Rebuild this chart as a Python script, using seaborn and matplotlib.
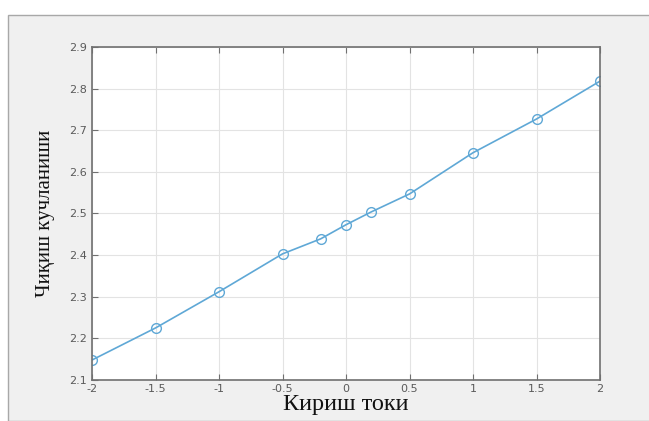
import matplotlib
matplotlib.use("Agg")
import matplotlib.pyplot as plt
from matplotlib.patches import Rectangle
import seaborn as sns
import pandas as pd

# values
input_current = [-2, -1.5, -1, -0.5, -0.2, 0, 0.2, 0.5, 1, 1.5, 2]
output_voltage = [2.148, 2.225, 2.312, 2.403, 2.439, 2.473, 2.504, 2.547, 2.646, 2.727, 2.818]
x_ticks = [-2, -1.5, -1, -0.5, 0, 0.5, 1, 1.5, 2]
y_ticks = [2.1, 2.2, 2.3, 2.4, 2.5, 2.6, 2.7, 2.8, 2.9]
x_title = "Кириш токи"
y_title = "Чиқиш кучланиши"

df = pd.DataFrame({"x": input_current, "y": output_voltage})

sns.set_style("whitegrid")
plt.rcParams["font.family"] = ["DejaVu Sans"]

fig = plt.figure(figsize=(6.49, 4.21), dpi=100)
fig.patch.set_facecolor("white")

# grey window panel behind the axes
panel = Rectangle((8 / 649, 0), 1, 1 - 15 / 421, transform=fig.transFigure,
                  facecolor="#f0f0f0", edgecolor="#a8a8a8", linewidth=1.0, zorder=-10)
fig.add_artist(panel)

ax = fig.add_axes([92 / 649, 1 - 380 / 421, (600 - 92) / 649, (380 - 47) / 421])
ax.set_facecolor("white")

sns.lineplot(data=df, x="x", y="y", ax=ax, color="#5fa8d6", linewidth=1.2,
             marker="o", markersize=7, markerfacecolor="none",
             markeredgecolor="#5fa8d6", markeredgewidth=1.0)

ax.set_xlim(-2, 2)
ax.set_ylim(2.1, 2.9)
ax.set_xticks(x_ticks)
ax.set_xticklabels(["-2", "-1.5", "-1", "-0.5", "0", "0.5", "1", "1.5", "2"])
ax.set_yticks(y_ticks)
ax.set_yticklabels([f"{v:.1f}" for v in y_ticks])
ax.grid(True, color="#e3e3e3", linewidth=0.8)
for s in ax.spines.values():
    s.set_color("#707070")
    s.set_linewidth(1.2)
ax.tick_params(axis="both", direction="in", length=4, width=0.8, colors="#707070",
               labelcolor="#5a5a5a", labelsize=8, top=True, right=False, left=True, bottom=True)
ax.tick_params(axis="x", pad=3)

ax.set_xlabel(x_title, fontfamily="Liberation Serif", fontsize=17.5, color="#111111", labelpad=0)
ax.set_ylabel(y_title, fontfamily="Liberation Serif", fontsize=15, color="#111111", labelpad=10)

fig.savefig("out.png", dpi=100)
